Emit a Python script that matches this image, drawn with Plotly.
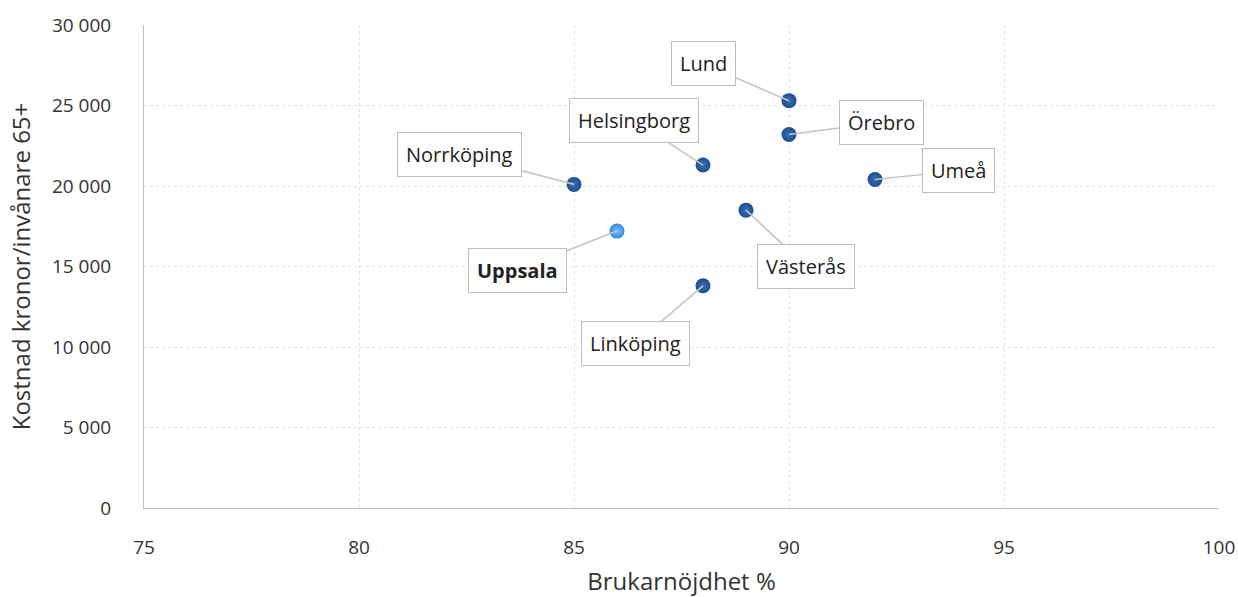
import plotly.graph_objects as go

cities = ["Lund", "Örebro", "Helsingborg", "Norrköping", "Umeå", "Västerås", "Uppsala", "Linköping"]
satisfaction = [90, 90, 88, 85, 92, 89, 86, 88]
cost = [25300, 23200, 21300, 20100, 20400, 18500, 17200, 13800]
x_ticks = [75, 80, 85, 90, 95, 100]
y_ticks = [0, 5000, 10000, 15000, 20000, 25000, 30000]

# label offsets (pixels) from point to label box centre
label_dx = [-86, 92, -69, -115, 83, 60, -100, -68]
label_dy = [-37, -12, -45, -30, -9, 56, 39, 58]

FONT = "Open Sans"
colors = ["#2f8ae0" if c == "Uppsala" else "#1b4f8f" for c in cities]

fig = go.Figure()
fig.add_trace(go.Scatter(
    x=satisfaction, y=cost, mode="markers",
    marker=dict(size=15, color=colors, line=dict(width=0),
                gradient=dict(type="radial", color=["#7fc0ff" if c == "Uppsala" else "#3a70b0" for c in cities])),
    hoverinfo="text", text=cities, showlegend=False,
))

for c, xv, yv, dx, dy in zip(cities, satisfaction, cost, label_dx, label_dy):
    txt = f"<b>{c}</b>" if c == "Uppsala" else c
    fig.add_annotation(
        x=xv, y=yv, text=txt, showarrow=True, ax=dx, ay=dy,
        arrowhead=0, arrowwidth=1.6, arrowcolor="#c4c4c4", standoff=0,
        bordercolor="#bdbdbd", borderwidth=1, borderpad=8, bgcolor="white",
        font=dict(family=FONT, size=20, color="#222222"),
    )

fig.update_layout(
    width=1238, height=597,
    margin=dict(l=144, r=19, t=25, b=89),
    paper_bgcolor="white", plot_bgcolor="white",
    separators=", ",
    font=dict(family=FONT, color="#333333"),
)
fig.update_xaxes(
    range=[75, 100], tickvals=x_ticks, showgrid=True, gridcolor="#e3e3e3", gridwidth=1,
    griddash="dot", zeroline=False, showline=True, linecolor="#bfbfbf", linewidth=1,
    tickfont=dict(family=FONT, size=19, color="#333333"), ticklabelstandoff=22,
    automargin=False,
    title=dict(text="Brukarnöjdhet %", font=dict(family=FONT, size=24, color="#333333"), standoff=14),
)
fig.update_yaxes(
    range=[0, 30000], tickvals=y_ticks, tickformat=",d", showgrid=True, gridcolor="#e3e3e3",
    gridwidth=1, griddash="dot", zeroline=False, showline=True, linecolor="#bfbfbf", linewidth=1,
    tickfont=dict(family=FONT, size=19, color="#333333"), ticklabelstandoff=28,
    automargin=False,
    title=dict(text="Kostnad kronor/invånare 65+", font=dict(family=FONT, size=24, color="#333333"), standoff=14),
)

fig.write_html("out.html", config={"displayModeBar": False},
               post_script="document.body.style.margin='0';document.body.style.overflow='hidden';")
